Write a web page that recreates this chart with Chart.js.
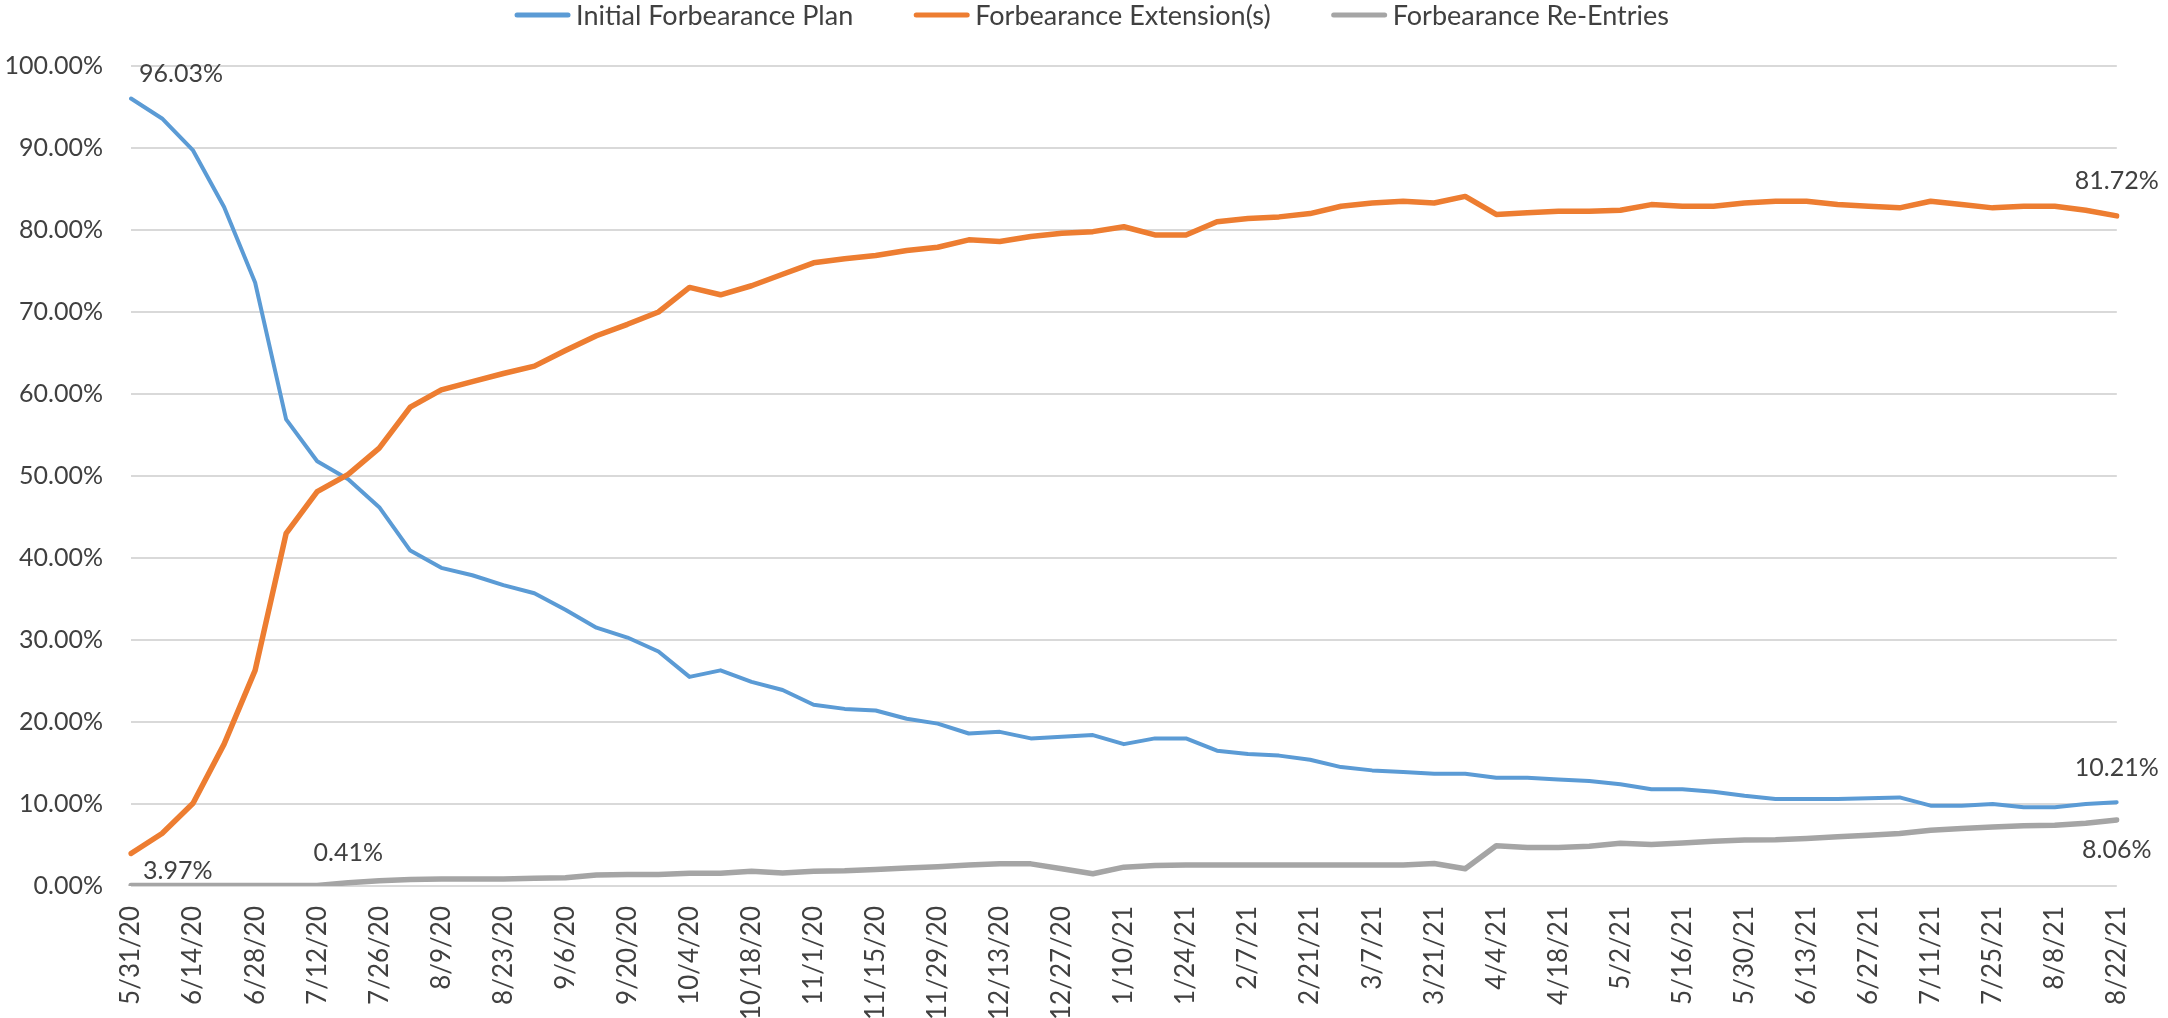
<!DOCTYPE html>
<html>
<head>
<meta charset="utf-8">
<script src="https://cdn.jsdelivr.net/npm/chart.js@4.4.1/dist/chart.umd.min.js"></script>
<style>
  html, body { margin: 0; padding: 0; background: #ffffff; }
  #wrap { width: 2168px; height: 1018px; }
</style>
</head>
<body>
<div id="wrap"><canvas id="c" width="2168" height="1018"></canvas></div>
<script>
// ---------------- DATA ----------------
const weeks = [
  '5/31/20','6/7/20','6/14/20','6/21/20','6/28/20','7/5/20','7/12/20','7/19/20','7/26/20','8/2/20',
  '8/9/20','8/16/20','8/23/20','8/30/20','9/6/20','9/13/20','9/20/20','9/27/20','10/4/20','10/11/20',
  '10/18/20','10/25/20','11/1/20','11/8/20','11/15/20','11/22/20','11/29/20','12/6/20','12/13/20','12/20/20',
  '12/27/20','1/3/21','1/10/21','1/17/21','1/24/21','1/31/21','2/7/21','2/14/21','2/21/21','2/28/21',
  '3/7/21','3/14/21','3/21/21','3/28/21','4/4/21','4/11/21','4/18/21','4/25/21','5/2/21','5/9/21',
  '5/16/21','5/23/21','5/30/21','6/6/21','6/13/21','6/20/21','6/27/21','7/4/21','7/11/21','7/18/21',
  '7/25/21','8/1/21','8/8/21','8/15/21','8/22/21'
];

const initialPlan = [
  96.03, 93.6, 89.7, 82.8, 73.6, 56.9, 51.8, 49.6, 46.2, 40.9,
  38.8, 37.9, 36.7, 35.7, 33.7, 31.5, 30.3, 28.6, 25.5, 26.3,
  24.9, 23.9, 22.1, 21.6, 21.4, 20.4, 19.8, 18.6, 18.8, 18.0,
  18.2, 18.4, 17.3, 18.0, 18.0, 16.5, 16.1, 15.9, 15.4, 14.5,
  14.1, 13.9, 13.7, 13.7, 13.2, 13.2, 13.0, 12.8, 12.4, 11.8,
  11.8, 11.5, 11.0, 10.6, 10.6, 10.6, 10.7, 10.8, 9.8, 9.8,
  10.0, 9.6, 9.6, 10.0, 10.21
];

const extensions = [
  3.97, 6.4, 10.1, 17.3, 26.3, 43.0, 48.1, 50.2, 53.4, 58.4,
  60.5, 61.5, 62.5, 63.4, 65.3, 67.1, 68.5, 70.0, 73.0, 72.1,
  73.2, 74.6, 76.0, 76.5, 76.9, 77.5, 77.9, 78.8, 78.6, 79.2,
  79.6, 79.8, 80.4, 79.4, 79.4, 81.0, 81.4, 81.6, 82.0, 82.9,
  83.3, 83.5, 83.3, 84.1, 81.9, 82.1, 82.3, 82.3, 82.4, 83.1,
  82.9, 82.9, 83.3, 83.5, 83.5, 83.1, 82.9, 82.7, 83.5, 83.1,
  82.7, 82.9, 82.9, 82.4, 81.72
];

const reEntries = [
  0.05, 0.05, 0.05, 0.05, 0.05, 0.05, 0.06, 0.41, 0.65, 0.8,
  0.85, 0.85, 0.85, 0.95, 1.0, 1.35, 1.4, 1.4, 1.55, 1.55,
  1.8, 1.6, 1.8, 1.85, 2.0, 2.2, 2.35, 2.55, 2.7, 2.7,
  2.1, 1.5, 2.3, 2.5, 2.55, 2.55, 2.55, 2.55, 2.55, 2.55,
  2.55, 2.55, 2.75, 2.1, 4.9, 4.7, 4.7, 4.85, 5.2, 5.05,
  5.25, 5.45, 5.6, 5.65, 5.8, 6.0, 6.2, 6.4, 6.8, 7.0,
  7.2, 7.35, 7.4, 7.65, 8.06
];

const seriesNames = ['Initial Forbearance Plan', 'Forbearance Extension(s)', 'Forbearance Re-Entries'];
const yTickValues = [0, 10, 20, 30, 40, 50, 60, 70, 80, 90, 100];

// which points carry a value label: [series index, point index]
const labelledPoints = [[0, 0], [1, 0], [2, 7], [1, 64], [0, 64], [2, 64]];

// ---------------- STYLE ----------------
const FONT = 'Lato';
const TEXT = '#404040';
const colors = ['#5b9bd5', '#ed7d31', '#a5a5a5'];
const widths = [4, 5.5, 5.5];
// placement of the value labels (same order as labelledPoints)
const labelPlacement = [
  { dx: 8, dy: -25, align: 'left' },
  { dx: 12, dy: 17, align: 'left' },
  { dx: 0, dy: -30, align: 'center' },
  { dx: 0, dy: -35, align: 'center' },
  { dx: 0, dy: -34, align: 'center' },
  { dx: 0, dy: 30, align: 'center' }
];
const legendStyle = { centerX: 1092, y: 15, sample: 55, gap: 6, itemGap: 61, lineWidth: 5, size: 27 };

const valueLabelPlugin = {
  id: 'valueLabels',
  afterDatasetsDraw(chart) {
    const ctx = chart.ctx;
    ctx.save();
    ctx.font = '25px ' + FONT;
    ctx.fillStyle = TEXT;
    ctx.textBaseline = 'middle';
    labelledPoints.forEach(([s, i], k) => {
      const pt = chart.getDatasetMeta(s).data[i];
      const v = chart.data.datasets[s].data[i];
      const p = labelPlacement[k];
      ctx.textAlign = p.align;
      ctx.fillText(v.toFixed(2) + '%', pt.x + p.dx, pt.y + p.dy);
    });
    ctx.restore();
  }
};

const legendPlugin = {
  id: 'topLegend',
  afterDraw(chart) {
    const ctx = chart.ctx;
    const L = legendStyle;
    ctx.save();
    ctx.font = L.size + 'px ' + FONT;
    ctx.textBaseline = 'middle';
    ctx.textAlign = 'left';
    const ds = chart.data.datasets;
    const w = ds.map(d => L.sample + L.gap + ctx.measureText(d.label).width);
    const total = w.reduce((a, b) => a + b, 0) + L.itemGap * (ds.length - 1);
    let x = L.centerX - total / 2;
    ds.forEach((d, k) => {
      ctx.strokeStyle = d.borderColor;
      ctx.lineWidth = L.lineWidth;
      ctx.lineCap = 'round';
      ctx.beginPath();
      ctx.moveTo(x + 2, L.y);
      ctx.lineTo(x + L.sample - 2, L.y);
      ctx.stroke();
      ctx.fillStyle = TEXT;
      ctx.fillText(d.label, x + L.sample + L.gap, L.y + 1);
      x += w[k] + L.itemGap;
    });
    ctx.restore();
  }
};

const seriesData = [initialPlan, extensions, reEntries];

new Chart(document.getElementById('c'), {
  type: 'line',
  data: {
    labels: weeks,
    datasets: seriesData.map((d, k) => ({
      label: seriesNames[k],
      data: d,
      borderColor: colors[k],
      backgroundColor: colors[k],
      borderWidth: widths[k],
      pointRadius: 0,
      pointHoverRadius: 0,
      tension: 0,
      borderJoinStyle: 'round',
      borderCapStyle: 'round',
      fill: false,
      order: 3 - k
    }))
  },
  options: {
    responsive: false,
    devicePixelRatio: 1,
    animation: false,
    layout: { padding: { top: 66, right: 48, bottom: 0, left: 0 } },
    plugins: {
      legend: { display: false },
      tooltip: { enabled: false },
      title: { display: false }
    },
    scales: {
      x: {
        offset: false,
        grid: { display: false, drawTicks: false },
        border: { display: false },
        ticks: {
          autoSkip: false,
          minRotation: 90,
          maxRotation: 90,
          padding: 20,
          color: TEXT,
          font: { family: FONT, size: 26 },
          callback: (v, i) => (i % 2 === 0 ? weeks[i] : '')
        },
        afterFit: s => { s.height = 132; }
      },
      y: {
        min: 0,
        max: 100,
        afterBuildTicks: s => { s.ticks = yTickValues.map(v => ({ value: v })); },
        grid: { color: '#d9d9d9', lineWidth: 2, drawTicks: false },
        border: { display: false },
        ticks: {
          padding: 28,
          color: TEXT,
          font: { family: FONT, size: 25 },
          callback: v => v.toFixed(2) + '%'
        },
        afterFit: s => { s.width = 131; }
      }
    }
  },
  plugins: [valueLabelPlugin, legendPlugin]
});
</script>
</body>
</html>
